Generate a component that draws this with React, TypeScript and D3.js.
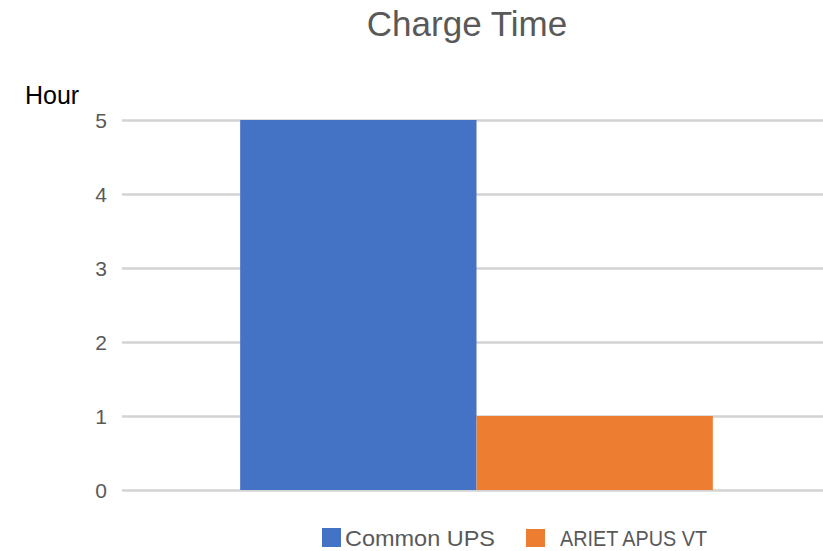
import { axisLeft, max, scaleBand, scaleLinear, select } from 'd3';
import { useEffect, useRef } from 'react';

const categories = ['Charge Time'];
const seriesNames = ['Common UPS', 'ARIET APUS VT'];
const seriesValues = [5, 1];
const seriesColors = ['#4472c4', '#ed7d31'];
const yTicks = [0, 1, 2, 3, 4, 5];

const WIDTH = 823;
const HEIGHT = 551;
const MARGIN = { top: 120, right: -8, bottom: 61, left: 122 };
const FONT = '"Liberation Sans", Arial, sans-serif';
const TEXT_GRAY = '#595959';

export default function App() {
  const yAxisRef = useRef<SVGGElement | null>(null);

  const innerBottom = HEIGHT - MARGIN.bottom;
  const plotRight = WIDTH - MARGIN.right;

  const yScale = scaleLinear()
    .domain([0, max(yTicks) ?? 5])
    .range([innerBottom, MARGIN.top]);

  const xCategory = scaleBand<string>()
    .domain(categories)
    .range([MARGIN.left, plotRight])
    .paddingInner(0)
    .paddingOuter(0.25);

  const xSeries = scaleBand<string>()
    .domain(seriesNames)
    .range([0, xCategory.bandwidth()])
    .padding(0);

  useEffect(() => {
    if (!yAxisRef.current) {
      return;
    }
    const axis = axisLeft(yScale)
      .tickValues(yTicks)
      .tickSize(-(WIDTH - MARGIN.left))
      .tickPadding(15)
      .tickFormat((d) => String(d));

    select(yAxisRef.current)
      .attr('transform', `translate(${MARGIN.left}, 0)`)
      .call(axis)
      .call((g) => {
        g.select('.domain').remove();
        g.selectAll('line').attr('stroke', '#d3d3d3').attr('stroke-width', 2.5);
        g.selectAll('text')
          .attr('fill', TEXT_GRAY)
          .attr('font-size', 21)
          .attr('font-family', FONT)
          .attr('dy', '0.36em');
      });
  }, []);

  return (
    <svg
      width={WIDTH}
      height={HEIGHT}
      viewBox={`0 0 ${WIDTH} ${HEIGHT}`}
      style={{ position: 'fixed', left: 0, top: 0, background: '#ffffff' }}
    >
      <g ref={yAxisRef} />

      {categories.map((category) => (
        <g key={category} transform={`translate(${xCategory(category)}, 0)`}>
          {seriesNames.map((name, i) => (
            <rect
              key={name}
              x={xSeries(name)}
              y={yScale(seriesValues[i])}
              width={xSeries.bandwidth()}
              height={innerBottom - yScale(seriesValues[i])}
              fill={seriesColors[i]}
            />
          ))}
        </g>
      ))}

      <text
        x={467}
        y={36}
        textAnchor="middle"
        fill={TEXT_GRAY}
        fontFamily={FONT}
        fontSize={35}
      >
        Charge Time
      </text>

      <text x={25} y={104} fill="#000000" fontFamily={FONT} fontSize={25}>
        Hour
      </text>

      <g fontFamily={FONT} fontSize={22} fill={TEXT_GRAY}>
        <rect x={322} y={528} width={19} height={19} fill={seriesColors[0]} />
        <text x={345} y={546} textLength={150} lengthAdjust="spacingAndGlyphs">
          {seriesNames[0]}
        </text>
        <rect x={526} y={529} width={19} height={18} fill={seriesColors[1]} />
        <text x={560} y={546} textLength={147} lengthAdjust="spacingAndGlyphs">
          {seriesNames[1]}
        </text>
      </g>
    </svg>
  );
}
